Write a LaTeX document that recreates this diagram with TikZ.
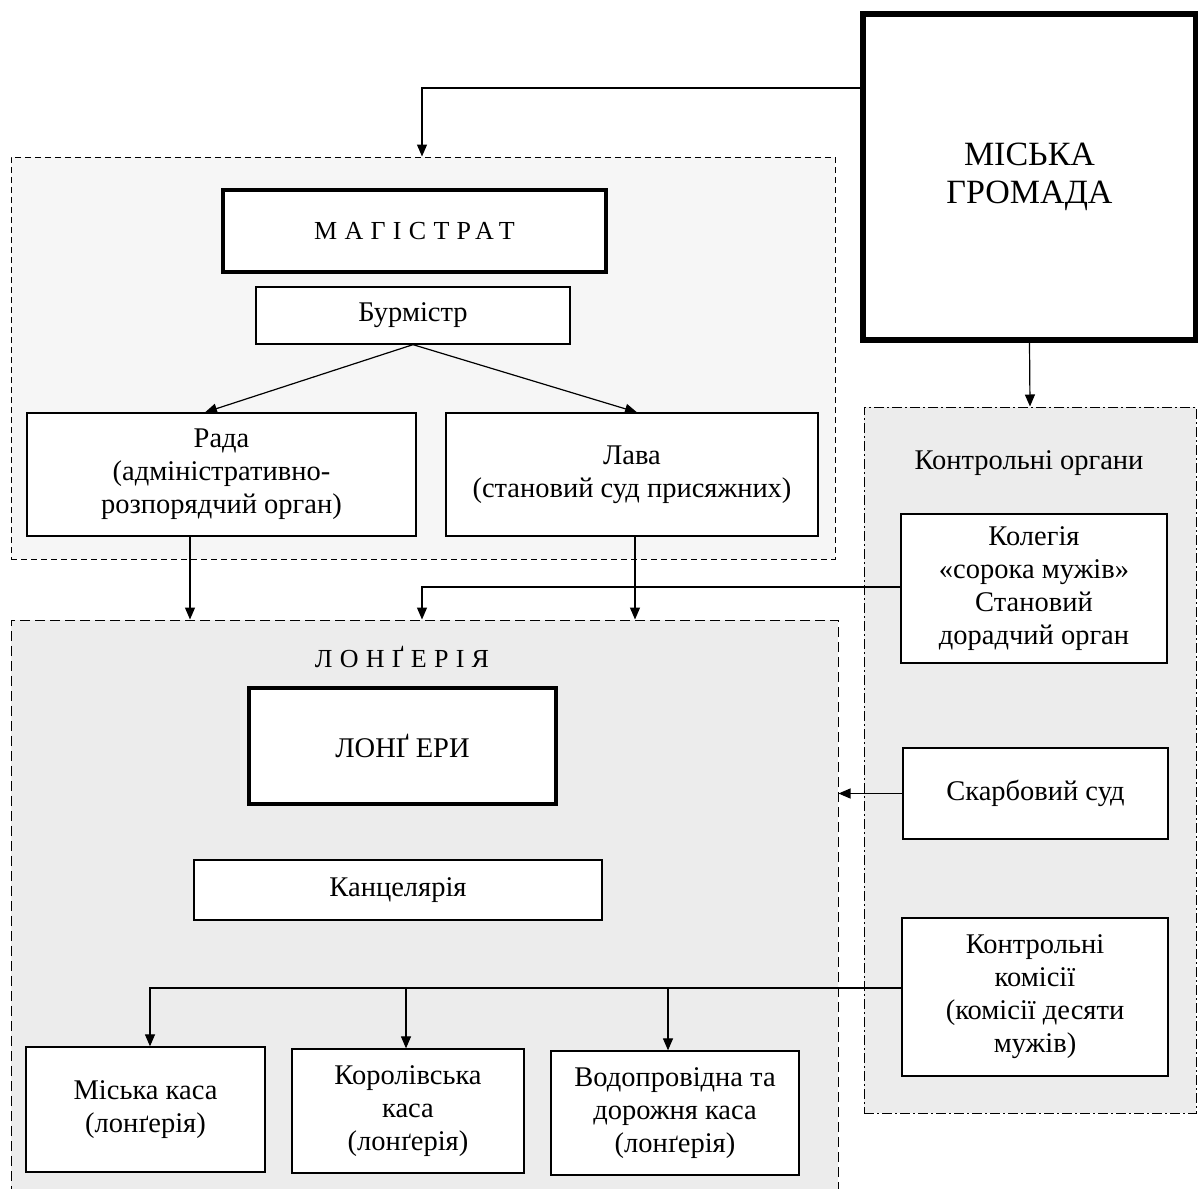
\documentclass[tikz,border=0pt]{standalone}
\usepackage{fontspec}
\setmainfont{Liberation Serif}
\usetikzlibrary{arrows.meta}
\begin{document}
\begin{tikzpicture}[x=1pt,y=-1pt,
 base/.style={font=\fontsize{28.5}{33}\selectfont, align=center, inner sep=0pt, anchor=center},
 box/.style={base, draw, line width=1.3pt, fill=white},
 thickbox/.style={box, line width=3.5pt},
 regionA/.style={draw, line width=1pt, inner sep=0pt, fill=gray!7, dash pattern=on 6pt off 4pt},
 regionB/.style={draw, line width=1pt, inner sep=0pt, fill=gray!15, dash pattern=on 10pt off 5pt},
 regionC/.style={draw, line width=1pt, inner sep=0pt, fill=gray!15, dash pattern=on 10pt off 3pt on 2pt off 3pt},
 arr/.style={line width=1.2pt, -{Triangle[length=12pt,width=10pt]}},
 wide/.style={font=\fontsize{26}{32}\selectfont\addfontfeature{LetterSpace=28}}
]
\clip (0,0) rectangle (1198,1188);
\fill[white] (0,0) rectangle (1198,1188);

% regions
\node[regionA, minimum width=824pt, minimum height=402pt] (magreg) at (423,358) {};
\node[regionB, minimum width=827pt, minimum height=600pt] (longreg) at (424.5,920) {};
\node[regionC, minimum width=332pt, minimum height=706pt] (kontreg) at (1030,760) {};

% top
\node[box, line width=6pt, minimum width=333pt, minimum height=326pt, font=\fontsize{34}{38}\selectfont] (hromada) at (1029.5,177) {МІСЬКА\\ГРОМАДА};

% magistrat
\node[thickbox, minimum width=383pt, minimum height=82pt, wide] (magistrat) at (414.5,231) {МАГІСТРАТ};
\node[box, minimum width=314pt, minimum height=57pt] (burm) at (413,315.5) {Бурмістр};
\node[box, minimum width=389pt, minimum height=123pt] (rada) at (221.5,474.5) {Рада\\(адміністративно-\\розпорядчий орган)};
\node[box, minimum width=372pt, minimum height=123pt] (lava) at (632,474.5) {Лава\\(становий суд присяжних)};

% longeria
\node[base, wide] (longlabel) at (402,657) {ЛОНҐЕРІЯ};
\node[thickbox, minimum width=307pt, minimum height=116pt] (longery) at (402.5,746) {ЛОНҐ ЕРИ};
\node[box, minimum width=408pt, minimum height=60pt] (kanc) at (398,890) {Канцелярія};
\node[box, minimum width=239pt, minimum height=125pt] (kasa1) at (145.5,1109.5) {Міська каса\\(лонґерія)};
\node[box, minimum width=232pt, minimum height=124pt] (kasa2) at (408,1111) {Королівська\\каса\\(лонґерія)};
\node[box, minimum width=248pt, minimum height=124pt] (kasa3) at (675,1113) {Водопровідна та\\дорожня каса\\(лонґерія)};

% control
\node[base] (kontrlabel) at (1029,463) {Контрольні органи};
\node[box, minimum width=266pt, minimum height=149pt] (kolegia) at (1034,588.5) {Колегія\\«сорока мужів»\\Становий\\дорадчий орган};
\node[box, minimum width=265pt, minimum height=91pt] (skarb) at (1035.5,793.5) {Скарбовий суд};
\node[box, minimum width=266pt, minimum height=158pt] (komisii) at (1035,997) {Контрольні\\комісії\\(комісії десяти\\мужів)};

% connectors
\draw[arr] (hromada.west |- 0,88) -| (magreg.north -| 422,0);
\draw[arr] (hromada.south) -- (kontreg.north);
\draw[arr] (burm.south) -- (rada.north -| 205,0);
\draw[arr] (burm.south) -- (lava.north -| 637,0);
\draw[arr] (rada.south -| 190,0) -- (longreg.north -| 190,0);
\draw[arr] (lava.south -| 635,0) -- (longreg.north -| 635,0);
\draw[arr] (kolegia.west |- 0,587) -| (longreg.north -| 422,0);
\draw[arr] (skarb.west) -- (longreg.east |- skarb.west);
\draw[arr] (komisii.west |- 0,988) -| (kasa1.north -| 150,0);
\draw[arr] (406,988) -- (kasa2.north -| 406,0);
\draw[arr] (668,988) -- (kasa3.north -| 668,0);
\end{tikzpicture}
\end{document}
